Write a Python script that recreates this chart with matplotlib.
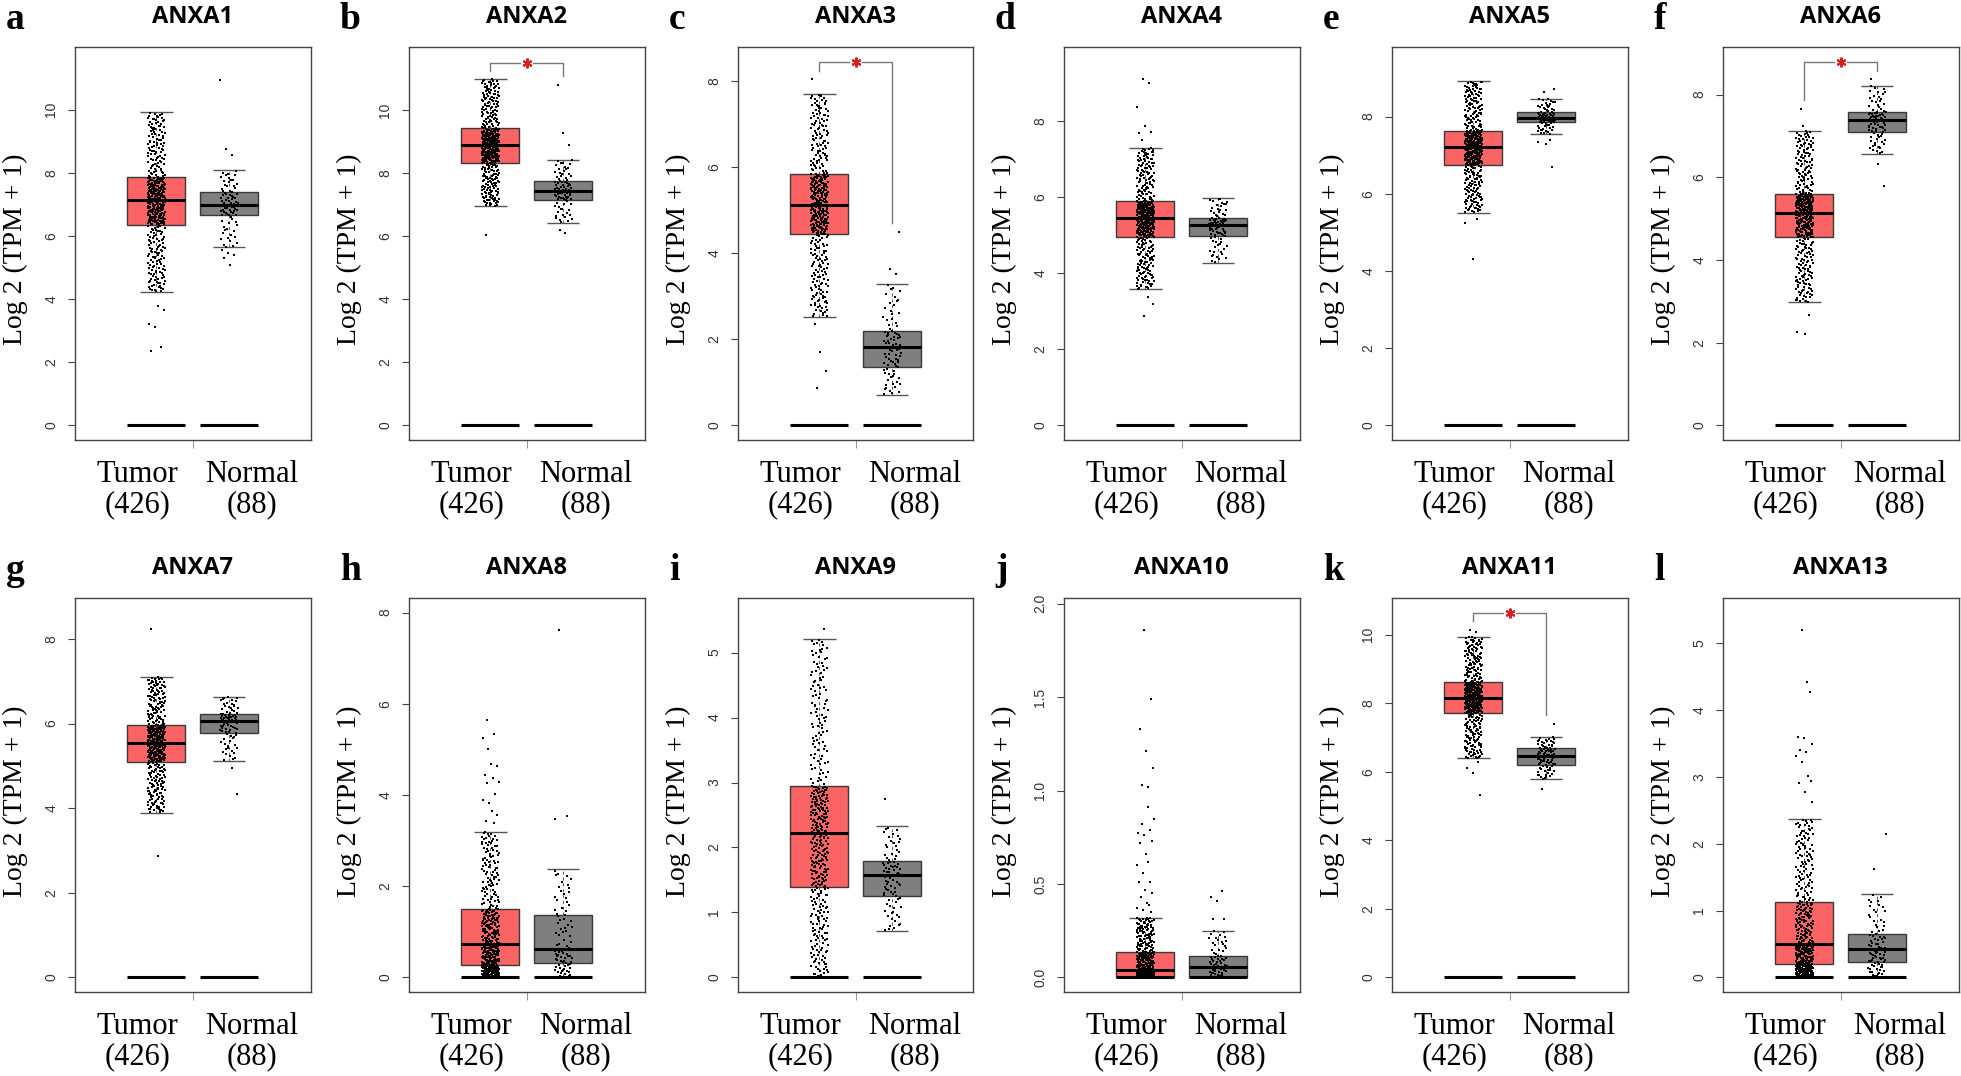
import numpy as np
import matplotlib
matplotlib.use("Agg")
import matplotlib.pyplot as plt
from matplotlib.patches import Rectangle
from matplotlib.transforms import ScaledTranslation

# ---------------- data ----------------
genes = ["ANXA1", "ANXA2", "ANXA3", "ANXA4", "ANXA5", "ANXA6",
         "ANXA7", "ANXA8", "ANXA9", "ANXA10", "ANXA11", "ANXA13"]
letters = ["a", "b", "c", "d", "e", "f", "g", "h", "i", "j", "k", "l"]
groups = ["Tumor", "Normal"]
group_sizes = [426, 88]

# (lower whisker, Q1, median, Q3, upper whisker) of log2(TPM+1)
tumor_stats = [
    (4.23, 6.36, 7.13, 7.86, 9.92),
    (6.95, 8.33, 8.88, 9.42, 10.98),
    (2.53, 4.46, 5.13, 5.84, 7.70),
    (3.58, 4.95, 5.45, 5.90, 7.29),
    (5.51, 6.75, 7.21, 7.63, 8.91),
    (2.99, 4.55, 5.14, 5.60, 7.12),
    (3.89, 5.10, 5.55, 5.96, 7.10),
    (0.00, 0.28, 0.73, 1.49, 3.19),
    (0.00, 1.39, 2.23, 2.94, 5.21),
    (0.00, 0.00, 0.04, 0.136, 0.32),
    (6.39, 7.72, 8.16, 8.62, 9.93),
    (0.00, 0.195, 0.50, 1.13, 2.37),
]
normal_stats = [
    (5.65, 6.65, 6.98, 7.39, 8.09),
    (6.42, 7.16, 7.43, 7.76, 8.42),
    (0.70, 1.37, 1.82, 2.20, 3.30),
    (4.27, 4.97, 5.26, 5.45, 5.98),
    (7.54, 7.86, 7.96, 8.11, 8.46),
    (6.57, 7.10, 7.39, 7.58, 8.21),
    (5.12, 5.77, 6.07, 6.23, 6.63),
    (0.00, 0.32, 0.62, 1.36, 2.37),
    (0.72, 1.25, 1.58, 1.79, 2.33),
    (0.00, 0.00, 0.055, 0.114, 0.25),
    (5.79, 6.21, 6.47, 6.69, 7.01),
    (0.00, 0.23, 0.42, 0.65, 1.25),
]
tumor_outliers = [
    [3.77, 3.64, 3.22, 3.13, 2.48, 2.36],
    [6.03],
    [8.05, 2.36, 1.70, 1.26, 0.88],
    [9.10, 9.00, 8.38, 7.87, 7.72, 7.68, 7.50, 3.39, 3.20, 2.87],
    [5.34, 5.25, 4.30],
    [7.66, 7.24, 2.66, 2.26, 2.20],
    [8.23, 2.88],
    [5.64, 5.34, 5.26, 5.00, 4.68, 4.64, 4.44, 4.38, 4.28, 4.26, 4.02,
     3.89, 3.83, 3.66, 3.56, 3.44, 3.38],
    [5.36],
    [1.86, 1.49, 1.33, 1.21, 1.12, 1.03, 1.02, 0.91, 0.85, 0.82, 0.79,
     0.77, 0.76, 0.73, 0.72, 0.66, 0.62, 0.60, 0.56, 0.51, 0.51, 0.47,
     0.45, 0.43, 0.40, 0.39, 0.37, 0.36, 0.35],
    [10.15, 10.07, 6.29, 6.12, 5.97, 5.32],
    [5.20, 4.42, 4.28, 3.60, 3.58, 3.50, 3.40, 3.37, 3.31, 3.22, 3.02,
     2.94, 2.91, 2.78, 2.63],
]
normal_outliers = [
    [10.95, 8.75, 8.57, 5.55, 5.45, 5.38, 5.30, 5.08],
    [10.80, 9.26, 8.90, 6.21, 6.10],
    [4.50, 3.63, 3.51],
    [],
    [8.72, 8.63, 7.38, 7.34, 7.30, 6.69],
    [8.37, 6.31, 5.80],
    [4.95, 4.34],
    [7.62, 3.54, 3.47],
    [2.74],
    [0.46, 0.43, 0.41, 0.31, 0.31],
    [7.39, 5.49],
    [2.15, 1.63],
]
significant = [False, True, True, False, False, True,
               False, False, False, False, True, False]
y_upper = [11.98, 12.0, 8.80, 9.95, 9.80, 9.15, 8.97, 8.32, 5.84, 2.03, 11.07, 5.68]
tick_max = [10, 10, 8, 8, 8, 8, 8, 8, 5, 2.0, 10, 5]
tick_step = [2, 2, 2, 2, 2, 2, 2, 2, 1, 0.5, 2, 1]

# ---------------- style ----------------
W, H = 1961, 1076
fig = plt.figure(figsize=(W / 100, H / 100), dpi=100)
SERIF = ["Liberation Serif", "DejaVu Serif"]
SANS = ["Liberation Sans", "DejaVu Sans"]
TITLE = ["Open Sans", "DejaVu Sans"]
box_colors = ["#FA6464", "#7F7F7F"]
positions = [0.3456, 0.6544]
box_w = 0.247
jit = 0.037

col_left = [75, 409, 738, 1064, 1392, 1723]
ax_w = 235.5
rows = [(47, 440), (598, 992)]


def radical_inverse(n, base):
    out = np.zeros(len(n))
    n = n.copy()
    f = 1.0 / base
    while np.any(n > 0):
        out += f * (n % base)
        n //= base
        f /= base
    return out


def spread_values(stats, n_inside, shift):
    lo, q1, med, q3, hi = stats
    p = (radical_inverse(np.arange(1, n_inside + 1), 2) + shift) % 1.0
    return np.interp(p, [0, 0.25, 0.5, 0.75, 1.0], [lo, q1, med, q3, hi])


for k in range(12):
    r, c = divmod(k, 6)
    top, bot = rows[r]
    ax = fig.add_axes([col_left[c] / W, 1 - bot / H, ax_w / W, (bot - top) / H])
    ylo = -y_upper[k] / 26.0
    ax.set_xlim(0, 1)
    ax.set_ylim(ylo, y_upper[k])
    R = y_upper[k] - ylo

    gmax = []
    for g, (stats, outl) in enumerate([(tumor_stats[k], tumor_outliers[k]),
                                       (normal_stats[k], normal_outliers[k])]):
        cx = positions[g]
        lo, q1, med, q3, hi = stats
        n_in = group_sizes[g] - len(outl)
        shift = 0.0123 * k + 0.5 * g
        vals = np.concatenate([spread_values(stats, n_in, shift),
                               np.array(outl, dtype=float)])
        gmax.append(vals.max())
        idx = np.arange(1, len(vals) + 1)
        xs = cx + jit * (2 * ((radical_inverse(idx, 3) + 0.07 * k) % 1.0) - 1)
        # whiskers (dashed) and caps
        ax.vlines(cx, q3, hi, colors="#555555", lw=0.7, linestyles=(0, (3, 3)), zorder=2)
        ax.vlines(cx, lo, q1, colors="#555555", lw=0.7, linestyles=(0, (3, 3)), zorder=2)
        ax.hlines([lo, hi], cx - 0.28 * box_w, cx + 0.28 * box_w,
                  colors="#555555", lw=1.0, zorder=2)
        ax.add_patch(Rectangle((cx - box_w / 2, q1), box_w, q3 - q1,
                               facecolor=box_colors[g], edgecolor="#3A3A3A",
                               lw=1.0, zorder=2))
        ax.scatter(xs, vals, s=1.0, marker="s", c="black", linewidths=0, zorder=3)
        ax.hlines(med, cx - box_w / 2, cx + box_w / 2, colors="black", lw=2.2, zorder=4)
        ax.hlines(0, cx - box_w / 2, cx + box_w / 2, colors="black", lw=2.2, zorder=4)

    if significant[k]:
        ytop = max(gmax) + 0.043 * R
        yl = gmax[0] + 0.022 * R
        yr = gmax[1] + 0.022 * R
        mid = (positions[0] + positions[1]) / 2
        gap = 0.027
        ax.plot([positions[0], positions[0], mid - gap], [yl, ytop, ytop],
                color="#777777", lw=1.0, zorder=2)
        ax.plot([mid + gap, positions[1], positions[1]], [ytop, ytop, yr],
                color="#777777", lw=1.0, zorder=2)
        ax.plot([mid], [ytop], marker=(6, 2, 0), ms=7, mew=1.5,
                color="#D42020", zorder=5)

    # axes styling
    for sp in ax.spines.values():
        sp.set_color("#444444")
        sp.set_linewidth(1.0)
    ticks = np.arange(0, tick_max[k] + 1e-9, tick_step[k])
    ax.set_yticks(ticks)
    if tick_step[k] < 1:
        ax.set_yticklabels([f"{t:.1f}" for t in ticks])
    else:
        ax.set_yticklabels([f"{int(t)}" for t in ticks])
    ax.tick_params(axis="y", length=5, width=0.8, color="#444444", pad=7,
                   labelsize=10, labelcolor="#333333", labelrotation=90)
    for lab in ax.get_yticklabels():
        lab.set_fontfamily(SANS)
        lab.set_va("center")
    ax.set_xticks([0.5])
    ax.set_xticklabels([""])
    ax.tick_params(axis="x", length=6, width=0.8, color="#999999")

    ax.set_ylabel("Log 2 (TPM + 1)", fontsize=20, family=SERIF)
    ax.yaxis.set_label_coords(-0.20, 0.485)
    ax.set_title(genes[k], fontsize=17, fontweight="bold", family=TITLE, pad=17)

    # category labels
    lab_x = [0.265, 0.752]
    for g in range(2):
        for txt, off in [(groups[g], 42), (f"({group_sizes[g]})", 72)]:
            ax.text(lab_x[g], 0, txt, fontsize=22, family=SERIF, ha="center",
                    va="baseline",
                    transform=ax.transAxes + ScaledTranslation(0, -off / 100, fig.dpi_scale_trans))
    # panel letter
    ax.text(0, 1, letters[k], fontsize=27, fontweight="bold", family=SERIF,
            ha="left", va="baseline",
            transform=ax.transAxes + ScaledTranslation(-69 / 100, 18 / 100, fig.dpi_scale_trans))

fig.savefig("out.png", dpi=100, facecolor="white")
